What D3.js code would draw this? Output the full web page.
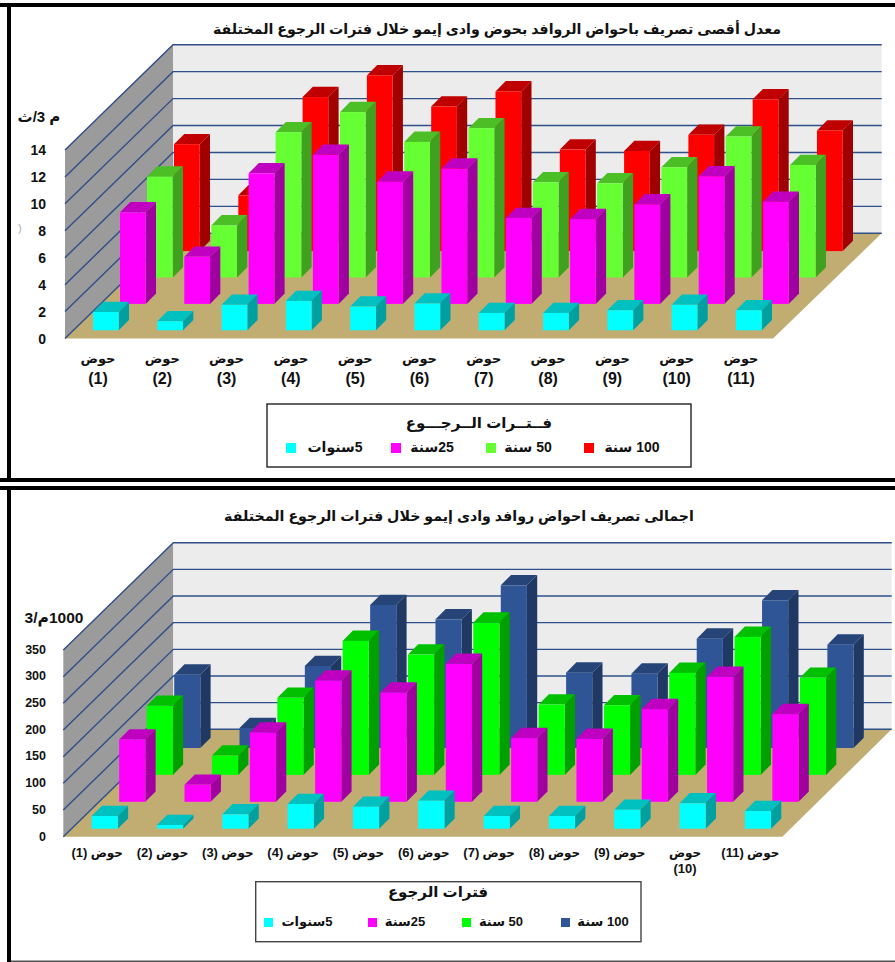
<!DOCTYPE html>
<html lang="ar">
<head>
<meta charset="utf-8">
<script src="https://cdn.jsdelivr.net/npm/d3@7"></script>
<style>
  html, body { margin: 0; padding: 0; background: #fff; }
  svg { display: block; }
  text { font-family: "Liberation Sans", "DejaVu Sans", sans-serif; font-weight: bold; fill: #111; }
  .rtl { direction: rtl; }
</style>
</head>
<body>
<svg id="page" width="895" height="962"></svg>
<script>
// Sub-basin labels and return periods
const basinNumbers = ["(1)", "(2)", "(3)", "(4)", "(5)", "(6)", "(7)", "(8)", "(9)", "(10)", "(11)"];
const basinWord = "حوض";
const periodLabels = ["5سنوات", "25سنة", "50 سنة", "100 سنة"];

// Peak discharge (m3/s) per sub-basin
const peak5 = [1.36, 0.67, 1.89, 2.18, 1.76, 1.99, 1.29, 1.29, 1.49, 1.89, 1.49];
const peak25 = [6.8, 3.5, 9.7, 11.07, 9.08, 10.05, 6.38, 6.3, 7.39, 9.48, 7.59];
const peak50 = [7.49, 3.87, 10.79, 12.28, 10.07, 11.09, 7.07, 7.0, 8.19, 10.47, 8.36];
const peak100 = [7.94, 4.14, 11.44, 13.05, 10.74, 11.86, 7.54, 7.44, 8.64, 11.27, 8.96];
const peakTicks = [0, 2, 4, 6, 8, 10, 12, 14];

// Total discharge volume (1000 m3) per sub-basin
const total5 = [23.75, 6.9, 26.9, 46.25, 41.25, 52.5, 23.75, 23.75, 35.6, 47.5, 33.1];
const total25 = [116.9, 31.9, 130, 227.5, 205, 258.75, 119.4, 118.1, 173.75, 234.4, 164.4];
const total50 = [129.4, 36.25, 144.4, 251.25, 225.6, 285.6, 131.9, 130.6, 191.25, 258.75, 181.9];
const total100 = [137.5, 37.5, 153.75, 268.1, 241.25, 305, 141.25, 139.4, 205, 276.9, 193.75];
const totalTicks = [0, 50, 100, 150, 200, 250, 300, 350];

const titlePeak = "معدل أقصى تصريف باحواض الروافد بحوض وادى إيمو خلال فترات الرجوع المختلفة";
const titleTotal = "اجمالى تصريف احواض روافد وادى إيمو خلال فترات الرجوع المختلفة";
const legendTitlePeak = "فــتــرات الــرجـــوع";
const legendTitleTotal = "فترات الرجوع";
const unitPeak = "م 3/ث";
const unitTotal = "1000م/3";

// Face shades for each series: front, top, side
const shadesPeak = [
  ["#00ffff", "#00c0c0", "#00a0a0"],
  ["#ff00ff", "#c000c0", "#a000a0"],
  ["#66ff33", "#4dbf26", "#40a020"],
  ["#ff0000", "#c00000", "#a00000"]
];
const shadesTotal = [
  ["#00ffff", "#00c0c0", "#00a0a0"],
  ["#ff00ff", "#c000c0", "#a000a0"],
  ["#00ff00", "#00c000", "#00a000"],
  ["#2f5597", "#264478", "#1f3864"]
];

const svg = d3.select("#page");
const poly = pts => pts.map(p => p.join(",")).join(" ");

// Heavy frames around the two panels
function frames() {
  const black = "#000";
  [[0, 3, 895, 4], [7, 3, 4, 479], [0, 478, 895, 4], [0, 486, 895, 4], [7, 486, 4, 476]]
    .forEach(([x, y, width, height]) => svg.append("rect").attr("x", x).attr("y", y).attr("width", width).attr("height", height).attr("fill", black));
  svg.append("rect").attr("x", 11).attr("y", 960.5).attr("width", 884).attr("height", 1.5).attr("fill", "#555");
}

function chart(cfg) {
  const g = svg.append("g");
  const f = cfg.frame;
  const cats = d3.range(basinNumbers.length);
  const maxV = d3.max(cfg.ticks);

  // Bars: band scale along the front row, linear offset per depth row, value to pixel height
  const xBand = d3.scaleBand().domain(cats).range(cfg.barRange).paddingInner(cfg.barPad).paddingOuter(0);
  const rowX = d3.scaleLinear().domain([0, 3]).range([0, cfg.rowDx * 3]);
  const rowY = d3.scaleLinear().domain([0, 3]).range([cfg.barBase, cfg.barBase - cfg.rowDy * 3]);
  const frontY = d3.scaleLinear().domain([0, maxV]).range([f.frontY, f.frontTop]);
  const wallY = d3.scaleLinear().domain([0, maxV]).range([f.backY, f.backTop]);
  const height = v => f.frontY - frontY(v);

  // Walls and floor
  g.append("polygon").attr("points", poly([[f.frontL, f.frontY], [f.backL, f.backY], [f.backL, f.backTop], [f.frontL, f.frontTop]])).attr("fill", "#9b9b9b");
  g.append("polygon").attr("points", poly([[f.backL, f.backY], [f.backR, f.backY], [f.backR, f.backTop], [f.backL, f.backTop]])).attr("fill", "#ececec");
  g.append("polygon").attr("points", poly([[f.frontL, f.frontY], [f.backL, f.backY], [f.backR, f.backY], [f.frontR, f.frontY]])).attr("fill", "#c1ad72");

  // Gridlines run along the side wall, then across the back wall
  g.append("g").selectAll("polyline").data(cfg.ticks).join("polyline")
    .attr("points", d => poly([[f.frontL, frontY(d)], [f.backL, wallY(d)], [f.backR, wallY(d)]]))
    .attr("fill", "none").attr("stroke", "#2f4f88").attr("stroke-width", 1.4);

  // Rows are painted back to front so nearer bars cover farther ones
  const depth = cfg.barDepth;
  d3.range(3, -1, -1).forEach(r => {
    const row = g.append("g");
    const w = xBand.bandwidth();
    const bars = row.selectAll("g").data(cfg.series[r]).join("g");
    const x0 = (d, i) => xBand(i) + rowX(r);
    const yb = rowY(r);
    bars.append("polygon").attr("fill", cfg.shades[r][1])
      .attr("points", (d, i) => {
        const x = x0(d, i), t = yb - height(d);
        return poly([[x, t], [x + w, t], [x + w + depth, t - depth], [x + depth, t - depth]]);
      });
    bars.append("polygon").attr("fill", cfg.shades[r][2])
      .attr("points", (d, i) => {
        const x = x0(d, i) + w, t = yb - height(d);
        return poly([[x, t], [x + depth, t - depth], [x + depth, yb - depth], [x, yb]]);
      });
    bars.append("rect").attr("fill", cfg.shades[r][0])
      .attr("x", (d, i) => x0(d, i)).attr("y", d => yb - height(d))
      .attr("width", w).attr("height", d => height(d));
  });

  // Value axis
  const axis = d3.axisLeft(d3.scaleLinear().domain([0, maxV]).range([f.frontY + cfg.tickShift, f.frontTop + cfg.tickShift]))
    .tickValues(cfg.ticks).tickSize(0).tickPadding(0);
  const ax = g.append("g").attr("transform", `translate(${cfg.tickX},0)`).call(axis);
  ax.select(".domain").remove();
  ax.selectAll("text").style("font-size", cfg.tickSize + "px").style("font-family", '"Liberation Sans"').style("font-weight", "bold").attr("fill", "#111");

  // Title and unit
  g.append("text").attr("class", "rtl").attr("x", cfg.titleX).attr("y", cfg.titleY).attr("text-anchor", "middle")
    .style("font-size", cfg.titleSize + "px").text(cfg.title);
  g.append("text").attr("class", "rtl").attr("x", cfg.unitX).attr("y", cfg.unitY).attr("text-anchor", "middle")
    .style("font-size", cfg.unitSize + "px").text(cfg.unit);

  // Category labels follow the same band positions as the bars
  const labelX = i => xBand(i) + cfg.labelShift;
  const labels = g.append("g").selectAll("g").data(basinNumbers).join("g");
  labels.each(function (d, i) {
    const l = d3.select(this);
    const word = l.append("text").attr("class", "rtl").attr("text-anchor", "middle").attr("x", labelX(i)).attr("y", cfg.labelY);
    if (cfg.twoLine || i === cfg.wrappedIndex) {
      word.style("font-size", cfg.labelSize + "px").text(basinWord);
      l.append("text").attr("text-anchor", "middle").attr("x", labelX(i)).attr("y", cfg.labelY + cfg.labelGap)
        .style("font-size", cfg.numberSize + "px").text(d);
    } else {
      word.append("tspan").style("font-size", cfg.labelSize + "px").text(basinWord + " ");
      word.append("tspan").style("font-size", cfg.numberSize + "px").text(d);
    }
  });

  // Legend
  const lg = cfg.legend;
  g.append("rect").attr("x", lg.x).attr("y", lg.y).attr("width", lg.w).attr("height", lg.h)
    .attr("fill", "#fff").attr("stroke", lg.stroke).attr("stroke-width", 1.4);
  g.append("text").attr("class", "rtl").attr("x", lg.titleX).attr("y", lg.titleY).attr("text-anchor", "middle")
    .style("font-size", lg.titleSize + "px").text(cfg.legendTitle);
  periodLabels.forEach((label, k) => {
    g.append("rect").attr("x", lg.swatchX[k]).attr("y", lg.swatchY).attr("width", lg.swatch).attr("height", lg.swatch).attr("fill", cfg.shades[k][0]);
    g.append("text").attr("class", "rtl").attr("x", lg.textX[k]).attr("y", lg.textY).attr("text-anchor", "middle")
      .style("font-size", lg.textSize + "px").text(label);
  });
}

frames();

chart({
  frame: { frontL: 65, frontR: 773, frontY: 338.5, frontTop: 150, backL: 173, backR: 881.7, backY: 233.3, backTop: 44.7 },
  series: [peak5, peak25, peak50, peak100],
  shades: shadesPeak,
  ticks: peakTicks,
  barRange: [93, 761.7], barPad: 0.6, rowDx: 27, rowDy: 26.4, barBase: 330.3, barDepth: 10.3,
  tickX: 46, tickSize: 14, tickShift: 0.5,
  title: titlePeak, titleX: 497, titleY: 34, titleSize: 14.2,
  unit: unitPeak, unitX: 39, unitY: 122, unitSize: 15,
  labelShift: 5, labelSize: 13, numberSize: 16, labelY: 363, labelGap: 21, twoLine: true,
  legendTitle: legendTitlePeak,
  legend: {
    x: 267, y: 404, w: 424, h: 63, stroke: "#222", titleX: 479, titleY: 428, titleSize: 15,
    swatch: 10, swatchX: [286, 391, 486, 584], swatchY: 443,
    textX: [335, 432, 528, 632], textY: 452, textSize: 14
  }
});

chart({
  frame: { frontL: 63.3, frontR: 782.3, frontY: 836.7, frontTop: 650, backL: 173.3, backR: 891.7, backY: 729.3, backTop: 542.7 },
  series: [total5, total25, total50, total100],
  shades: shadesTotal,
  ticks: totalTicks,
  barRange: [91.7, 771], barPad: 0.6, rowDx: 27.5, rowDy: 26.9, barBase: 828.7, barDepth: 10.3,
  tickX: 46, tickSize: 12.5, tickShift: -0.7,
  title: titleTotal, titleX: 459, titleY: 521, titleSize: 14.2,
  unit: unitTotal, unitX: 54, unitY: 623, unitSize: 15.5,
  labelShift: 5.5, labelSize: 12, numberSize: 13, labelY: 857, labelGap: 16, twoLine: false, wrappedIndex: 9,
  legendTitle: legendTitleTotal,
  legend: {
    x: 255.7, y: 881.7, w: 385.3, h: 60, stroke: "#444", titleX: 438, titleY: 897, titleSize: 15,
    swatch: 9, swatchX: [264, 368, 462, 561], swatchY: 918,
    textX: [307, 405, 501, 603], textY: 926, textSize: 13
  }
});

// Faint stray bracket beside the first value axis
svg.append("text").attr("x", 18).attr("y", 232).style("font-size", "11px").style("font-weight", "normal").style("fill", "#aaa").text(")");
</script>
</body>
</html>
